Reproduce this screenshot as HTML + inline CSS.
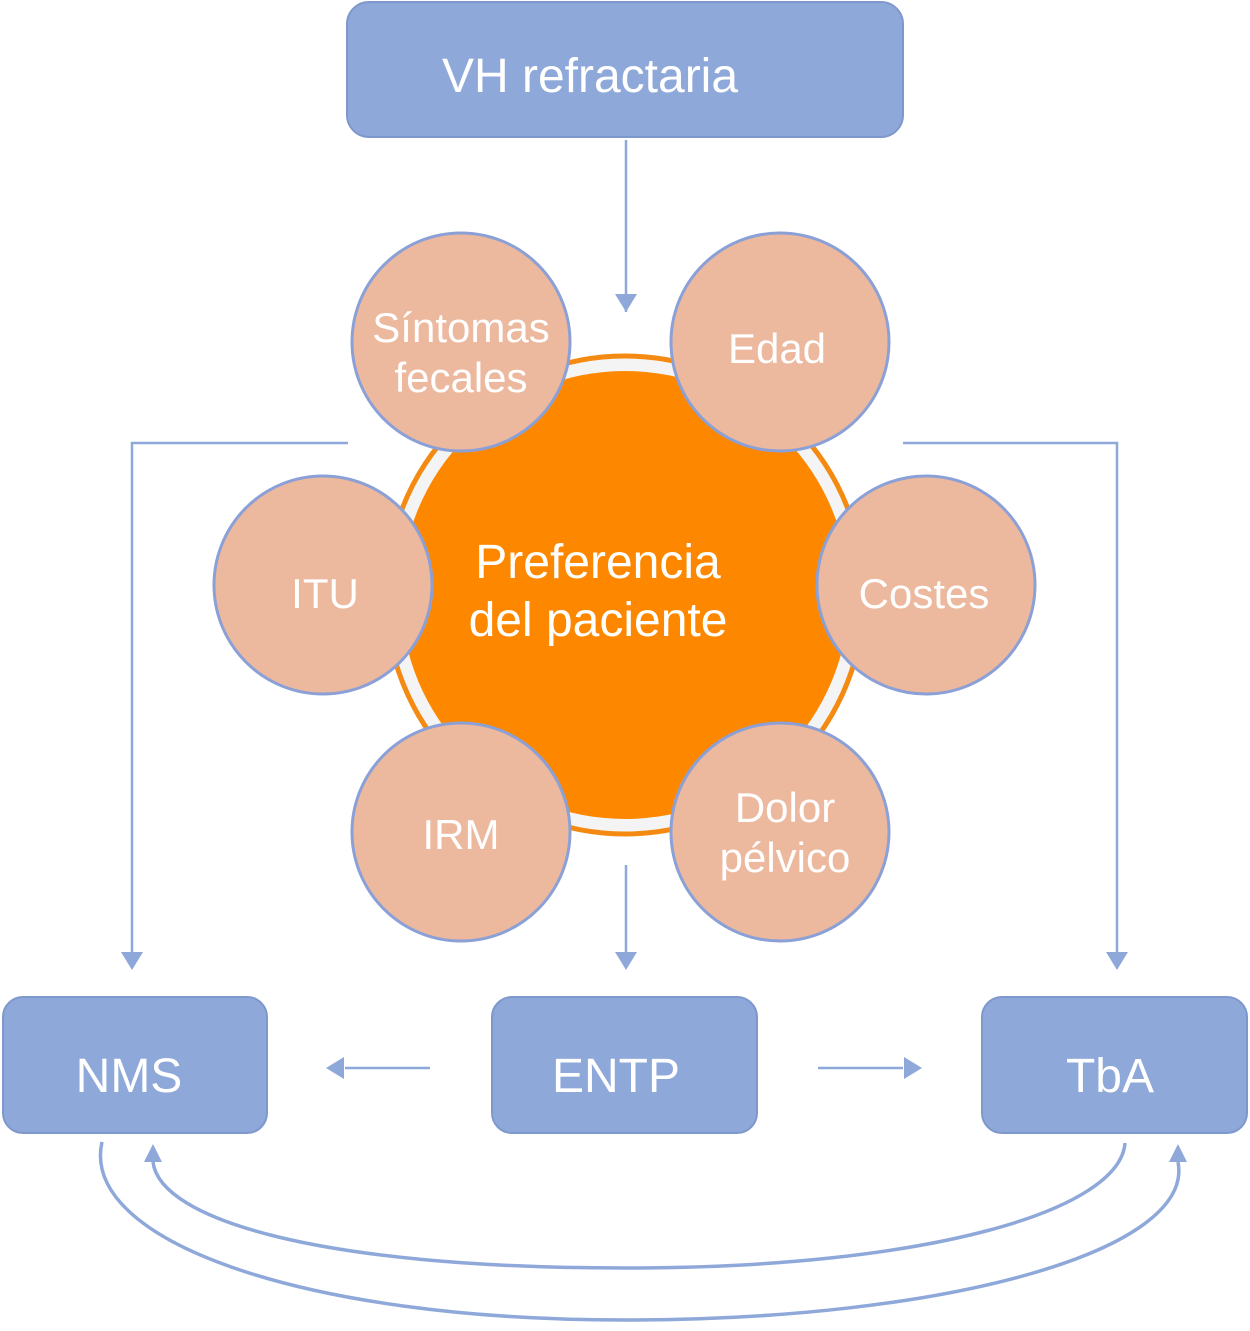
<!DOCTYPE html>
<html><head><meta charset="utf-8"><style>
body{margin:0;background:#fff;}
svg text{font-family:"Liberation Sans",Arial,sans-serif;fill:#fff;text-anchor:middle;}
</style></head><body>
<svg width="1250" height="1326" viewBox="0 0 1250 1326" xmlns="http://www.w3.org/2000/svg">
<g stroke="#8ea8da" stroke-width="2.5" fill="none">
<line x1="626" y1="140" x2="626" y2="312"/>
<path d="M626,312 l-11,-18 h22 z" fill="#8ea8da" stroke="none"/>
<polyline points="348,443 132,443 132,952"/>
<path d="M132,970 l-11,-18 h22 z" fill="#8ea8da" stroke="none"/>
<polyline points="903,443 1117,443 1117,952"/>
<path d="M1117,970 l-11,-18 h22 z" fill="#8ea8da" stroke="none"/>
<line x1="626" y1="865" x2="626" y2="952"/>
<path d="M626,970 l-11,-18 h22 z" fill="#8ea8da" stroke="none"/>
<line x1="430" y1="1068" x2="345" y2="1068"/>
<path d="M326,1068 l18,-11 v22 z" fill="#8ea8da" stroke="none"/>
<line x1="818" y1="1068" x2="903" y2="1068"/>
<path d="M922,1068 l-18,-11 v22 z" fill="#8ea8da" stroke="none"/>
<path d="M102,1142 C80,1240 300,1320 625,1320 C950,1320 1195,1250 1178,1162" stroke-width="3.5"/>
<path d="M1178,1144 l-9,18 h18 z" fill="#8ea8da" stroke="none"/>
<path d="M1125,1143 C1120,1210 930,1268 625,1268 C320,1268 160,1220 153,1162" stroke-width="3.5"/>
<path d="M153,1144 l-9,18 h18 z" fill="#8ea8da" stroke="none"/>
</g>
<rect x="347" y="2" width="556" height="135" rx="22" fill="#8ea8da" stroke="#7f98cc" stroke-width="2"/>
<text x="590" y="92" font-size="48">VH refractaria</text>
<rect x="3" y="997" width="264" height="136" rx="20" fill="#8ea8da" stroke="#7f98cc" stroke-width="2"/>
<text x="129" y="1092" font-size="48">NMS</text>
<rect x="492" y="997" width="265" height="136" rx="20" fill="#8ea8da" stroke="#7f98cc" stroke-width="2"/>
<text x="616" y="1092" font-size="48">ENTP</text>
<rect x="982" y="997" width="265" height="136" rx="20" fill="#8ea8da" stroke="#7f98cc" stroke-width="2"/>
<text x="1110" y="1092" font-size="48">TbA</text>
<circle cx="625" cy="595" r="239" fill="#f4f4f4" stroke="#f58a12" stroke-width="5"/>
<circle cx="625" cy="595" r="224" fill="#fd8800"/>
<text x="598" y="578" font-size="48">Preferencia</text>
<text x="598" y="636" font-size="48">del paciente</text>
<g fill="#ecb89e" stroke="#8aa0d6" stroke-width="3">
<circle cx="461" cy="342" r="109"/>
<circle cx="780" cy="342" r="109"/>
<circle cx="323" cy="585" r="109"/>
<circle cx="926" cy="585" r="109"/>
<circle cx="461" cy="832" r="109"/>
<circle cx="780" cy="832" r="109"/>
</g>
<g font-size="42">
<text x="461" y="342">Síntomas</text>
<text x="461" y="392">fecales</text>
<text x="777" y="363">Edad</text>
<text x="325" y="608">ITU</text>
<text x="924" y="608">Costes</text>
<text x="461" y="849">IRM</text>
<text x="785" y="822">Dolor</text>
<text x="785" y="872">pélvico</text>
</g>
</svg>
</body></html>
